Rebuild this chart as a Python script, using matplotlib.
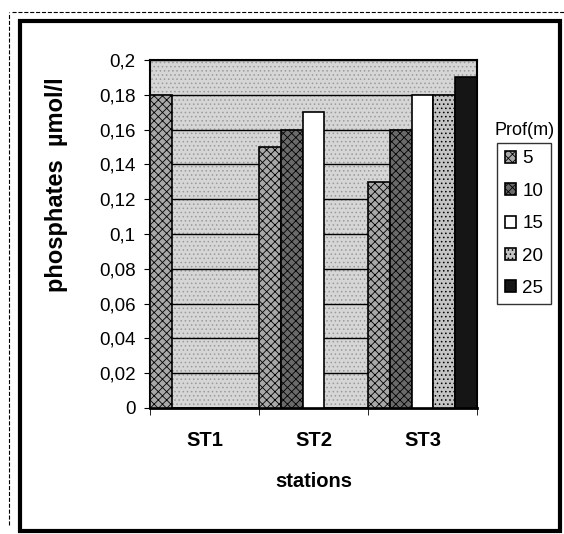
import matplotlib
matplotlib.use("Agg")
import matplotlib.pyplot as plt
import numpy as np
from matplotlib.patches import Rectangle

stations = ["ST1", "ST2", "ST3"]
depths = ["5", "10", "15", "20", "25"]
values = {
    "5":  [0.18, 0.15, 0.13],
    "10": [0.0, 0.16, 0.16],
    "15": [0.0, 0.17, 0.18],
    "20": [0.0, 0.0, 0.18],
    "25": [0.0, 0.0, 0.19],
}
yticks = [0, 0.02, 0.04, 0.06, 0.08, 0.1, 0.12, 0.14, 0.16, 0.18, 0.2]
ytick_labels = ["0", "0,02", "0,04", "0,06", "0,08", "0,1", "0,12", "0,14", "0,16", "0,18", "0,2"]

styles = {
    "5":  dict(facecolor="#a8a8a8", hatch="xxxx"),
    "10": dict(facecolor="#6a6a6a", hatch="xxxx"),
    "15": dict(facecolor="white", hatch=None),
    "20": dict(facecolor="#c4c4c4", hatch="...."),
    "25": dict(facecolor="#151515", hatch=None),
}

plt.rcParams["font.family"] = ["Liberation Sans", "DejaVu Sans"]
plt.rcParams["hatch.linewidth"] = 0.6

W, H = 564, 534
fig = plt.figure(figsize=(W / 100, H / 100), dpi=100)
ax = fig.add_axes([150 / W, 1 - 408 / H, (477 - 150) / W, (408 - 60) / H])

ax.set_facecolor("#d6d6d6")
ax.add_patch(Rectangle((0, 0), 1, 1, transform=ax.transAxes, facecolor="none",
                       edgecolor="#9a9a9a", hatch="....", lw=0, zorder=0.5))

x = np.arange(len(stations))
w = 0.2
for i, d in enumerate(depths):
    ax.bar(x - 0.5 + w * i + w / 2, values[d], width=w, edgecolor="black",
           linewidth=1.2, zorder=3, label=d, **styles[d])

ax.set_xlim(-0.5, 2.5)
ax.set_ylim(0, 0.2)
ax.set_yticks(yticks)
ax.set_yticklabels(ytick_labels, fontsize=13.5)
ax.set_xticks(x)
ax.set_xticklabels(stations, fontsize=14.5, fontweight="bold")
ax.set_xticks([-0.5, 0.5, 1.5, 2.5], minor=True)
ax.tick_params(axis="x", which="major", length=0, pad=16.5)
ax.tick_params(axis="x", which="minor", length=5, direction="out")
ax.tick_params(axis="y", length=4, direction="out", pad=6.5)
ax.grid(axis="y", color="black", linewidth=1.0, zorder=1)
ax.set_axisbelow(True)
for s in ax.spines.values():
    s.set_linewidth(1.5)
ax.spines["bottom"].set_linewidth(2)

ax.set_xlabel("stations", fontsize=14.5, fontweight="bold", labelpad=16)
ax.set_ylabel("phosphates  µmol/l", fontsize=17, fontweight="bold")
ax.yaxis.set_label_coords(-0.251, 0.641)

leg = ax.legend(loc="upper left", bbox_to_anchor=((497 - 150) / 327, (408 - 143) / 348),
                fontsize=13.5, frameon=True, fancybox=False,
                edgecolor="black", handlelength=0.6, handleheight=0.6,
                handletextpad=0.35, labelspacing=0.82, borderpad=0.4,
                borderaxespad=0)
leg.get_frame().set_linewidth(1.0)
ax.text((525 - 150) / 327, (408 - 131) / 348, "Prof(m)", transform=ax.transAxes,
        fontsize=13, ha="center", va="center")

fig.patches.append(Rectangle((20 / W, 1 - 531 / H), (560 - 20) / W, (531 - 21) / H,
                             transform=fig.transFigure, fill=False, edgecolor="black",
                             linewidth=3))
fig.lines.append(plt.Line2D([9 / W, 9 / W], [1 - 525 / H, 1 - 12 / H], transform=fig.transFigure,
                            color="black", linewidth=0.8, linestyle="--"))
fig.lines.append(plt.Line2D([12 / W, 1.0], [1 - 12 / H, 1 - 12 / H], transform=fig.transFigure,
                            color="black", linewidth=0.8, linestyle="--"))

fig.savefig("out.png", dpi=100)
